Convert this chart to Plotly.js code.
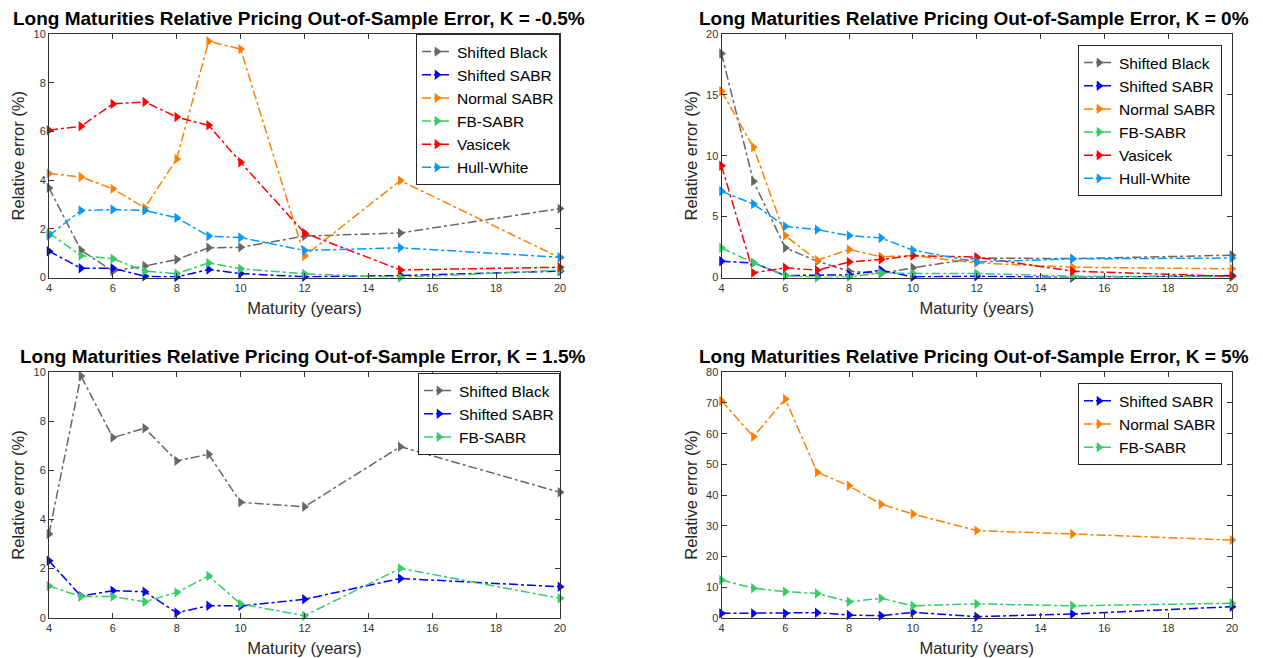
<!DOCTYPE html>
<html>
<head>
<meta charset="utf-8">
<script src="https://cdn.plot.ly/plotly-3.0.1.min.js"></script>
<style>html,body{margin:0;padding:0;background:#fff;}#chart{width:1263px;height:658px;}</style>
</head>
<body>
<div id="chart"></div>
<script>
// Maturities (years)
const maturities = [4, 5, 6, 7, 8, 9, 10, 12, 15, 20];

// K = -0.5%
const kNeg05_shiftedBlack = [3.68, 1.12, 0.26, 0.47, 0.74, 1.22, 1.24, 1.70, 1.83, 2.83];
const kNeg05_shiftedSABR  = [1.08, 0.38, 0.38, 0.05, 0.02, 0.33, 0.16, 0.03, 0.08, 0.26];
const kNeg05_normalSABR   = [4.27, 4.13, 3.64, 2.86, 4.87, 9.70, 9.38, 0.88, 3.98, 0.81];
const kNeg05_fbSABR       = [1.83, 0.90, 0.77, 0.26, 0.16, 0.60, 0.36, 0.15, 0.00, 0.30];
const kNeg05_vasicek      = [6.05, 6.21, 7.13, 7.21, 6.59, 6.25, 4.73, 1.83, 0.31, 0.42];
const kNeg05_hullWhite    = [1.72, 2.75, 2.79, 2.75, 2.45, 1.70, 1.64, 1.11, 1.22, 0.83];

// K = 0%
const k0_shiftedBlack = [18.4, 7.9, 2.43, 1.34, 0.52, 0.33, 0.80, 1.60, 1.55, 1.83];
const k0_shiftedSABR  = [1.34, 1.20, 0.16, 0.16, 0.22, 0.60, 0.05, 0.10, 0.00, 0.16];
const k0_normalSABR   = [15.3, 10.7, 3.44, 1.42, 2.30, 1.70, 1.80, 1.20, 0.85, 0.71];
const k0_fbSABR       = [2.43, 1.20, 0.16, 0.00, 0.05, 0.38, 0.33, 0.33, 0.10, 0.05];
const k0_vasicek      = [9.18, 0.38, 0.80, 0.60, 1.28, 1.48, 1.80, 1.67, 0.52, 0.10];
const k0_hullWhite    = [7.08, 6.04, 4.20, 3.93, 3.44, 3.25, 2.24, 1.28, 1.53, 1.60];

// K = 1.5%
const k15_shiftedBlack = [3.41, 9.85, 7.34, 7.72, 6.39, 6.66, 4.70, 4.52, 6.97, 5.11];
const k15_shiftedSABR  = [2.32, 0.88, 1.10, 1.06, 0.20, 0.49, 0.48, 0.75, 1.60, 1.26];
const k15_fbSABR       = [1.29, 0.86, 0.86, 0.65, 1.03, 1.70, 0.56, 0.08, 2.01, 0.79];

// K = 5%
const k5_shiftedSABR = [1.41, 1.41, 1.41, 1.63, 0.87, 0.65, 1.74, 0.33, 1.20, 3.59];
const k5_normalSABR  = [70.7, 59.0, 71.3, 47.4, 43.0, 37.0, 33.8, 28.4, 27.3, 25.3];
const k5_fbSABR      = [12.3, 9.6, 8.5, 7.9, 5.2, 6.3, 3.9, 4.5, 3.9, 4.7];

const titles = [
  'Long Maturities Relative Pricing Out-of-Sample Error, K = -0.5%',
  'Long Maturities Relative Pricing Out-of-Sample Error, K = 0%',
  'Long Maturities Relative Pricing Out-of-Sample Error, K = 1.5%',
  'Long Maturities Relative Pricing Out-of-Sample Error, K = 5%'
];
const xTicks = [4, 6, 8, 10, 12, 14, 16, 18, 20];

const colors = {
  'Shifted Black': '#666666',
  'Shifted SABR': '#0000ff',
  'Normal SABR': '#ff8000',
  'FB-SABR': '#33cc66',
  'Vasicek': '#ff0000',
  'Hull-White': '#0099ff'
};

function tr(name, y, ax, legend) {
  return {
    x: maturities, y: y, name: name, type: 'scatter', mode: 'lines+markers',
    xaxis: 'x' + (ax === 1 ? '' : ax), yaxis: 'y' + (ax === 1 ? '' : ax),
    legend: legend,
    cliponaxis: false,
    line: {color: colors[name], width: 1.5, dash: 'dashdot'},
    marker: {symbol: 'triangle-right', size: 9, color: colors[name]}
  };
}

const data = [
  tr('Shifted Black', kNeg05_shiftedBlack, 1, 'legend'),
  tr('Shifted SABR', kNeg05_shiftedSABR, 1, 'legend'),
  tr('Normal SABR', kNeg05_normalSABR, 1, 'legend'),
  tr('FB-SABR', kNeg05_fbSABR, 1, 'legend'),
  tr('Vasicek', kNeg05_vasicek, 1, 'legend'),
  tr('Hull-White', kNeg05_hullWhite, 1, 'legend'),
  tr('Shifted Black', k0_shiftedBlack, 2, 'legend2'),
  tr('Shifted SABR', k0_shiftedSABR, 2, 'legend2'),
  tr('Normal SABR', k0_normalSABR, 2, 'legend2'),
  tr('FB-SABR', k0_fbSABR, 2, 'legend2'),
  tr('Vasicek', k0_vasicek, 2, 'legend2'),
  tr('Hull-White', k0_hullWhite, 2, 'legend2'),
  tr('Shifted Black', k15_shiftedBlack, 3, 'legend3'),
  tr('Shifted SABR', k15_shiftedSABR, 3, 'legend3'),
  tr('FB-SABR', k15_fbSABR, 3, 'legend3'),
  tr('Shifted SABR', k5_shiftedSABR, 4, 'legend4'),
  tr('Normal SABR', k5_normalSABR, 4, 'legend4'),
  tr('FB-SABR', k5_fbSABR, 4, 'legend4')
];

const W = 1263, H = 658;
const font = 'Liberation Sans, Arial, sans-serif';
const axCol = '#333333';

function xax(domain, anchor) {
  return {
    domain: domain, anchor: anchor, range: [4, 20], tickvals: xTicks,
    ticks: 'inside', ticklen: 5, tickcolor: axCol, mirror: 'ticks',
    showline: true, linecolor: axCol, linewidth: 1, showgrid: false, zeroline: false,
    tickfont: {family: font, size: 11, color: axCol},
    title: {text: 'Maturity (years)', font: {family: font, size: 16.5, color: '#262626'}, standoff: 9}
  };
}
function yax(domain, anchor, max, dtick) {
  return {
    domain: domain, anchor: anchor, range: [0, max], dtick: dtick,
    ticks: 'inside', ticklen: 5, tickcolor: axCol, mirror: 'ticks',
    showline: true, linecolor: axCol, linewidth: 1, showgrid: false, zeroline: false,
    tickfont: {family: font, size: 11, color: axCol},
    title: {text: 'Relative error (%)', font: {family: font, size: 16.5, color: '#262626'}, standoff: 4}
  };
}

const xL = [49 / W, 560 / W], xR = [721.5 / W, 1232 / W];
const yT = [1 - 277.5 / H, 1 - 34 / H], yB = [1 - 617.7 / H, 1 - 372.3 / H];

function leg(xr, ytop) {
  return {
    x: xr, y: ytop, xanchor: 'right', yanchor: 'top', xref: 'paper', yref: 'paper',
    bgcolor: '#ffffff', bordercolor: '#262626', borderwidth: 1,
    font: {family: font, size: 15.5, color: '#000'}, tracegroupgap: 0
  };
}

const layout = {
  width: W, height: H,
  margin: {l: 0, r: 0, t: 0, b: 0},
  paper_bgcolor: '#ffffff', plot_bgcolor: '#ffffff',
  showlegend: true,
  xaxis: xax(xL, 'y'), yaxis: yax(yT, 'x', 10, 2),
  xaxis2: xax(xR, 'y2'), yaxis2: yax(yT, 'x2', 20, 5),
  xaxis3: xax(xL, 'y3'), yaxis3: yax(yB, 'x3', 10, 2),
  xaxis4: xax(xR, 'y4'), yaxis4: yax(yB, 'x4', 80, 10),
  legend: leg(560 / W, 1 - 34 / H),
  legend2: leg(1222 / W, 1 - 45 / H),
  legend3: leg(560 / W, 1 - 373 / H),
  legend4: leg(1222 / W, 1 - 383.3 / H),
  annotations: [
    {text: '<b>' + titles[0] + '</b>', x: 299 / W, y: 1 - 18.5 / H},
    {text: '<b>' + titles[1] + '</b>', x: 974 / W, y: 1 - 18.5 / H},
    {text: '<b>' + titles[2] + '</b>', x: 302 / W, y: 1 - 356.5 / H},
    {text: '<b>' + titles[3] + '</b>', x: 974 / W, y: 1 - 356.5 / H}
  ].map(a => Object.assign(a, {xref: 'paper', yref: 'paper', xanchor: 'center', yanchor: 'middle',
    showarrow: false, font: {family: font, size: 19, color: '#000'}}))
};

Plotly.newPlot('chart', data, layout, {displayModeBar: false, staticPlot: true});
</script>
</body>
</html>
